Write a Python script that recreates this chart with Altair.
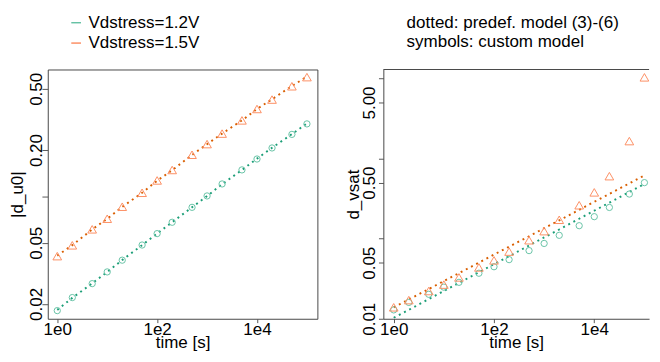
import altair as alt
import pandas as pd

# ---------------- data ----------------
t = [1, 2, 5, 10, 20, 50, 100, 200, 500, 1000, 2000, 5000, 10000, 20000, 50000, 100000]

# left panel: |d_u0|
du0_obs_12 = [0.0181, 0.0220, 0.0271, 0.0323, 0.0385, 0.0483, 0.0573, 0.0679,
              0.0849, 0.1007, 0.1205, 0.1487, 0.175, 0.2065, 0.253, 0.296]
du0_obs_15 = [0.0409, 0.0481, 0.0611, 0.0716, 0.0857, 0.1056, 0.127, 0.1485,
              0.1865, 0.2188, 0.256, 0.312, 0.370, 0.426, 0.520, 0.596]
du0_mod_12 = [0.0183, 0.0219, 0.0272, 0.0323, 0.0386, 0.0482, 0.0574, 0.0680,
              0.0850, 0.1005, 0.1200, 0.1485, 0.176, 0.207, 0.254, 0.298]
du0_mod_15 = [0.0412, 0.0482, 0.0610, 0.0715, 0.0855, 0.1055, 0.1265, 0.1480,
              0.1860, 0.2185, 0.2560, 0.3120, 0.370, 0.428, 0.522, 0.600]

# right panel: d_vsat
dvs_obs_12 = [0.0129, 0.0160, 0.0202, 0.0248, 0.0285, 0.037, 0.0446, 0.0547,
              0.0709, 0.0871, 0.110, 0.145, 0.188, 0.245, 0.360, 0.50]
dvs_obs_15 = [0.0139, 0.0171, 0.0222, 0.0267, 0.0328, 0.0437, 0.0536, 0.0689,
              0.0955, 0.124, 0.172, 0.261, 0.378, 0.602, 1.65, 10.3]
dvs_mod_12 = [0.0103, 0.0129, 0.0176, 0.0222, 0.0280, 0.0380, 0.0480, 0.0604,
              0.0821, 0.1035, 0.130, 0.177, 0.223, 0.281, 0.382, 0.481]
dvs_mod_15 = [0.0139, 0.0174, 0.0235, 0.0296, 0.0371, 0.0502, 0.0632, 0.0794,
              0.107, 0.135, 0.169, 0.229, 0.288, 0.362, 0.489, 0.616]

SER = ["Vdstress=1.2V", "Vdstress=1.5V"]
MOD = ["model 1.2V", "model 1.5V"]
PT_COLORS = ["#66C2A5", "#FC8D62"]
LN_COLORS = ["#1B9E77", "#D95F02"]
x_ticks = [1, 100, 10000]
left_y_ticks = [0.02, 0.05, 0.1, 0.2, 0.5]
right_y_ticks = [0.01, 0.05, 0.1, 0.5, 1, 5, 10]
note_lines = ["dotted: predef. model (3)-(6)", "symbols: custom model"]

FONT = "Liberation Sans"
FS = 17.5
FRAME = "#444444"
TICK = "#555555"
H = 257


def frame(o12, o15, m12, m15):
    rows = []
    for i, ti in enumerate(t):
        rows.append({"t": ti, "v": o12[i], "series": SER[0], "kind": "obs"})
        rows.append({"t": ti, "v": o15[i], "series": SER[1], "kind": "obs"})
        rows.append({"t": ti, "v": m12[i], "series": MOD[0], "kind": "model"})
        rows.append({"t": ti, "v": m15[i], "series": MOD[1], "kind": "model"})
    return pd.DataFrame(rows)


legend = alt.Legend(
    title=None, orient="none", legendX=20.5, legendY=-57, direction="vertical",
    symbolType="stroke", symbolSize=100, symbolStrokeWidth=1.5,
    labelFont=FONT, labelFontSize=FS, labelColor="black", labelOffset=4,
    rowPadding=2, padding=0,
)


def panel(df, width, xdom, ydom, yticks, yexpr, ytitle, ytick, ylabpad, framed, title=None):
    xs = alt.Scale(type="log", domain=xdom, nice=False)
    ys = alt.Scale(type="log", domain=ydom, nice=False)
    xaxis = alt.Axis(
        values=x_ticks, labelExpr="'1e' + round(log(datum.value) / LN10)",
        title="time [s]", grid=False, domain=not framed, domainColor=FRAME,
        tickColor=TICK, tickSize=4, labelPadding=12.5, labelBaseline="alphabetic",
        labelFont=FONT, labelFontSize=FS, labelColor="black",
        labelOverlap=False, labelFlush=False,
        titleFont=FONT, titleFontSize=FS, titleFontWeight="normal", titleColor="black",
        titleBaseline="alphabetic", titleY=30, titleX=width / 2,
    )
    yaxis = alt.Axis(
        values=yticks, labelExpr=yexpr, title=ytitle, grid=False,
        domain=not framed, domainColor=FRAME, tickColor=TICK, tickSize=ytick,
        labelPadding=ylabpad, labelAngle=270, labelAlign="center",
        labelBaseline="alphabetic", labelFont=FONT, labelFontSize=FS,
        labelColor="black", labelOverlap=False, labelFlush=False,
        titleFont=FONT, titleFontSize=FS, titleFontWeight="normal", titleColor="black",
        titleAngle=270, titleBaseline="alphabetic", titleAlign="center",
        titleX=-26, titleY=H / 2,
    )
    X = alt.X("t:Q", scale=xs, axis=xaxis)
    Y = alt.Y("v:Q", scale=ys, axis=yaxis)
    base = alt.Chart(df)
    color = alt.Color("series:N", scale=alt.Scale(domain=SER, range=PT_COLORS), legend=legend)
    lines = base.transform_filter("datum.kind == 'model'").mark_line(
        strokeDash=[2, 4], strokeWidth=2, clip=True
    ).encode(
        x=X, y=Y,
        stroke=alt.Stroke("series:N", scale=alt.Scale(domain=MOD, range=LN_COLORS), legend=None),
    )
    circ = base.transform_filter(
        "datum.kind == 'obs' && datum.series == '%s'" % SER[0]
    ).mark_point(shape="circle", size=42, filled=False, strokeWidth=1, opacity=1).encode(
        x=X, y=Y, color=color
    )
    tri = base.transform_filter(
        "datum.kind == 'obs' && datum.series == '%s'" % SER[1]
    ).mark_point(shape="triangle-up", size=80, filled=False, strokeWidth=1, opacity=1).encode(
        x=X, y=Y, color=color
    )
    layers = [lines, circ, tri]
    if not framed:
        top = alt.Chart(pd.DataFrame({"a": [0]})).mark_rule(color=FRAME, strokeWidth=1).encode(
            x=alt.value(0), x2=alt.value(width), y=alt.value(0)
        )
        layers.append(top)
    props = dict(width=width, height=H)
    if framed:
        props["view"] = alt.ViewBackground(stroke=FRAME, strokeWidth=1)
    if title is not None:
        props["title"] = title
    return alt.layer(*layers).properties(**props)


left = panel(
    frame(du0_obs_12, du0_obs_15, du0_mod_12, du0_mod_15), 278,
    [0.645, 162000], [0.01602, 0.668], left_y_ticks,
    "datum.value == 0.1 ? '' : format(datum.value, '.2f')", "|d_u0|", 6, 0, True,
)

right_title = alt.TitleParams(
    text=note_lines, anchor="start", orient="top", frame="group", baseline="top",
    offset=19.5, dx=24, lineHeight=19.5, font=FONT, fontSize=FS, fontWeight="normal",
    color="black",
)

right = panel(
    frame(dvs_obs_12, dvs_obs_15, dvs_mod_12, dvs_mod_15), 274,
    [0.621, 123900], [0.01, 12.9], right_y_ticks,
    "indexof([0.1, 1, 10], datum.value) >= 0 ? '' : format(datum.value, '.2f')",
    "d_vsat", 5, 4, False, title=right_title,
)

chart = alt.hconcat(left, right, spacing=68, bounds="flush").properties(
    padding={"left": 0, "top": 0, "right": 0, "bottom": 0}
).configure_view(stroke="transparent")

chart.save("out.html", embed_options={"renderer": "svg", "actions": False})
